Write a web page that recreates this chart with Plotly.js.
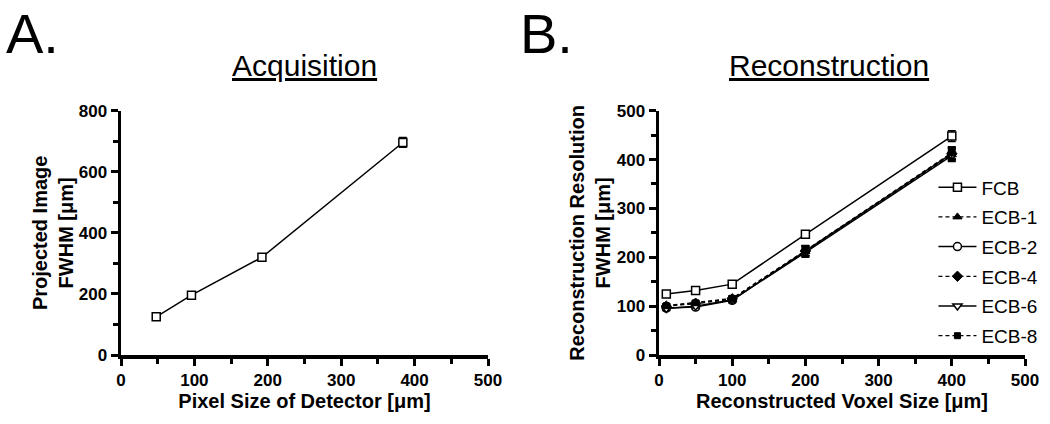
<!DOCTYPE html>
<html>
<head>
<meta charset="utf-8">
<script src="https://cdn.plot.ly/plotly-3.0.1.min.js"></script>
<style>html,body{margin:0;padding:0;background:#fff;}#chart{width:1050px;height:424px;}</style>
</head>
<body>
<div id="chart"></div>
<script>
// Panel A: Acquisition
const acqX = [48, 96, 192, 384];
const acqY = [125, 196, 320, 696];
const acqErr = [4, 5, 6, 16];

// Panel B: Reconstruction
const voxelX = [10, 50, 100, 200, 400];
const fcbY  = [125, 132, 145, 247, 448];
const fcbErr = [3, 3, 3, 6, 11];
const ecb1Y = [100, 105, 114, 212, 410];
const ecb2Y = [96, 98, 112, 213, 412];
const ecb4Y = [100, 106, 115, 213, 412];
const ecb6Y = [95, 100, 113, 210, 408];
const ecb8Y = [101, 107, 116, 214, 414];
const ecbErr = [4, 4, 5, 10, 12];

const seriesNames = ["FCB", "ECB-1", "ECB-2", "ECB-4", "ECB-6", "ECB-8"];

const FONT = "Liberation Sans, Arial, sans-serif";
const DASH = '4px,3px';

function errBar(arr) {
  return {type: 'data', array: arr, visible: true, color: '#000', thickness: 1.5, width: 4};
}

const traces = [
  {
    x: acqX, y: acqY, xaxis: 'x', yaxis: 'y', mode: 'lines+markers', showlegend: false,
    line: {color: '#000', width: 1.5},
    marker: {symbol: 'square', size: 8, color: '#fff', line: {color: '#000', width: 1.5}},
    error_y: errBar(acqErr)
  },
  {
    x: voxelX, y: fcbY, xaxis: 'x2', yaxis: 'y2', mode: 'lines+markers', name: seriesNames[0], legendgroup: 'g0',
    line: {color: '#000', width: 1.5},
    marker: {symbol: 'square', size: 8, color: '#fff', line: {color: '#000', width: 1.5}},
    error_y: errBar(fcbErr)
  },
  {
    x: voxelX, y: ecb1Y, xaxis: 'x2', yaxis: 'y2', mode: 'lines+markers', name: seriesNames[1], legendgroup: 'g1',
    line: {color: '#000', width: 1.2, dash: DASH},
    marker: {symbol: 'triangle-up', size: 8, color: '#000', line: {color: '#000', width: 1}},
    error_y: errBar(ecbErr)
  },
  {
    x: voxelX, y: ecb2Y, xaxis: 'x2', yaxis: 'y2', mode: 'lines+markers', name: seriesNames[2], legendgroup: 'g2',
    line: {color: '#000', width: 1.5},
    marker: {symbol: 'circle', size: 8, color: '#fff', line: {color: '#000', width: 1.5}},
    error_y: errBar(ecbErr)
  },
  {
    x: voxelX, y: ecb4Y, xaxis: 'x2', yaxis: 'y2', mode: 'lines+markers', name: seriesNames[3], legendgroup: 'g3',
    line: {color: '#000', width: 1.2, dash: DASH},
    marker: {symbol: 'diamond', size: 8, color: '#000', line: {color: '#000', width: 1}},
    error_y: errBar(ecbErr)
  },
  {
    x: voxelX, y: ecb6Y, xaxis: 'x2', yaxis: 'y2', mode: 'lines+markers', name: seriesNames[4], legendgroup: 'g4',
    line: {color: '#000', width: 1.5},
    marker: {symbol: 'triangle-down', size: 8, color: '#fff', line: {color: '#000', width: 1.5}},
    error_y: errBar(ecbErr)
  },
  {
    x: voxelX, y: ecb8Y, xaxis: 'x2', yaxis: 'y2', mode: 'lines+markers', name: seriesNames[5], legendgroup: 'g5',
    line: {color: '#000', width: 1.2, dash: DASH},
    marker: {symbol: 'square', size: 6, color: '#000', line: {color: '#000', width: 1}},
    error_y: errBar(ecbErr)
  }
];

function axisBase(range, dtick, minorDtick) {
  return {
    range: range, autorange: false, dtick: dtick, tick0: 0,
    showline: true, linecolor: '#000', linewidth: 3.5,
    ticks: 'outside', ticklen: 7, tickwidth: 3, tickcolor: '#000',
    minor: {ticks: 'outside', ticklen: 5, tickwidth: 3, tickcolor: '#000', dtick: minorDtick, showgrid: false},
    showgrid: false, zeroline: false, fixedrange: true,
    tickfont: {family: FONT, size: 17, color: '#000', weight: 700}
  };
}

function titleFont() {
  return {family: FONT, size: 20, color: '#000', weight: 700};
}

const yDom = [1 - 355/424, 1 - 110.7/424];

const layout = {
  width: 1050, height: 424,
  margin: {l: 0, r: 0, t: 0, b: 0},
  paper_bgcolor: '#fff', plot_bgcolor: '#fff',
  font: {family: FONT, color: '#000'},
  xaxis: Object.assign(axisBase([0, 500], 100, 50), {
    domain: [121/1050, 488/1050], anchor: 'y',
    title: {text: 'Pixel Size of Detector [μm]', standoff: 6, font: titleFont()}
  }),
  yaxis: Object.assign(axisBase([0, 800], 200, 100), {
    domain: yDom, anchor: 'x',
    title: {text: 'Projected Image<br>FWHM [μm]', standoff: 0, font: titleFont()}
  }),
  xaxis2: Object.assign(axisBase([0, 500], 100, 50), {
    domain: [659/1050, 1025/1050], anchor: 'y2',
    title: {text: 'Reconstructed Voxel Size [μm]', standoff: 6, font: titleFont()}
  }),
  yaxis2: Object.assign(axisBase([0, 500], 100, 50), {
    domain: yDom, anchor: 'x2',
    title: {text: 'Reconstruction Resolution<br>FWHM [μm]', standoff: 1, font: titleFont()}
  }),
  showlegend: true,
  legend: {
    x: 0.889, y: 0.603, xanchor: 'left', yanchor: 'top',
    bgcolor: 'rgba(255,255,255,0)', borderwidth: 0,
    font: {family: FONT, size: 19, color: '#000'},
    itemwidth: 38, tracegroupgap: 2
  },
  annotations: [
    {text: 'A.', x: 4/1050, y: 1 - 33/424, xref: 'paper', yref: 'paper', xanchor: 'left', yanchor: 'middle', showarrow: false,
     font: {family: FONT, size: 56, color: '#000'}},
    {text: 'B.', x: 518/1050, y: 1 - 33/424, xref: 'paper', yref: 'paper', xanchor: 'left', yanchor: 'middle', showarrow: false,
     font: {family: FONT, size: 56, color: '#000'}},
    {text: 'Acquisition', x: 304/1050, y: 1 - 65/424, xref: 'paper', yref: 'paper', xanchor: 'center', yanchor: 'middle', showarrow: false,
     font: {family: FONT, size: 30, color: '#000', lineposition: 'under'}},
    {text: 'Reconstruction', x: 829/1050, y: 1 - 65/424, xref: 'paper', yref: 'paper', xanchor: 'center', yanchor: 'middle', showarrow: false,
     font: {family: FONT, size: 30, color: '#000', lineposition: 'under'}}
  ]
};

Plotly.newPlot('chart', traces, layout, {displayModeBar: false, staticPlot: true});
</script>
</body>
</html>
